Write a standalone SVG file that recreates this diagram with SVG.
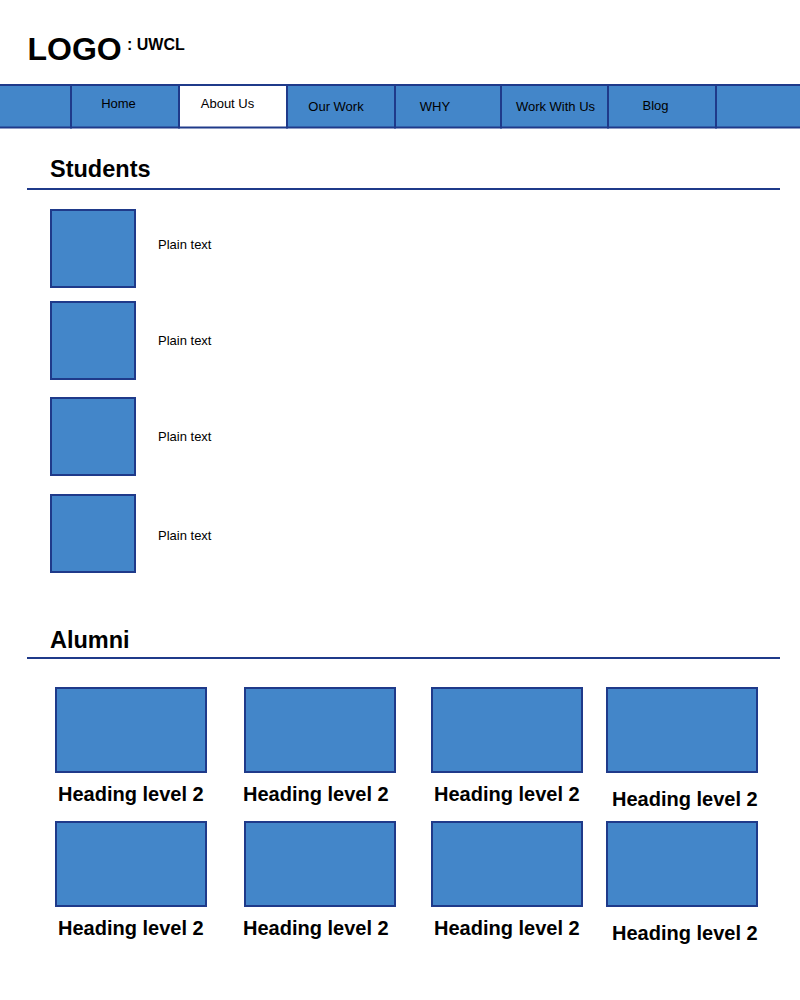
<svg xmlns="http://www.w3.org/2000/svg" width="800" height="1000" viewBox="0 0 800 1000">
<style>
.box{fill:#4386c9;stroke:#1f3a8a;stroke-width:2}
.navw{fill:#ffffff;stroke:#1f3a8a;stroke-width:2}
.rule{stroke:#1f3a8a;stroke-width:2}
text{font-family:"Liberation Sans",Arial,sans-serif;fill:#000}
.nav{font-size:13px;text-anchor:middle}
.plain{font-size:13px}
.h1{font-size:23.5px;font-weight:bold}
.h2{font-size:20px;font-weight:bold}
</style>
<rect width="800" height="1000" fill="#ffffff"/>
<g id="logo">
<text x="27.5" y="60" style="font-size:32px;font-weight:bold">LOGO</text>
<text x="127" y="50" style="font-size:16px;font-weight:bold">: UWCL</text>
</g>
<g id="nav">
<g id="nav-blank-left"><rect class="box" x="-3" y="85" width="74" height="42.5"/></g>
<g id="nav-home"><rect class="box" x="71" y="85" width="108" height="42.5"/><text class="nav" x="118.5" y="108">Home</text></g>
<g id="nav-about"><rect class="navw" x="179" y="85" width="108" height="42.5"/><text class="nav" x="227.5" y="108">About Us</text></g>
<g id="nav-ourwork"><rect class="box" x="287" y="85" width="108" height="42.5"/><text class="nav" x="336" y="111">Our Work</text></g>
<g id="nav-why"><rect class="box" x="395" y="85" width="106" height="42.5"/><text class="nav" x="435" y="111">WHY</text></g>
<g id="nav-workwithus"><rect class="box" x="501" y="85" width="107" height="42.5"/><text class="nav" x="555.5" y="111">Work With Us</text></g>
<g id="nav-blog"><rect class="box" x="608" y="85" width="108" height="42.5"/><text class="nav" x="655.5" y="110">Blog</text></g>
<g id="nav-blank-right"><rect class="box" x="716" y="85" width="86" height="42.5"/></g>
</g>
<g id="students">
<text class="h1" x="50" y="177">Students</text>
<line class="rule" x1="27" y1="189" x2="780" y2="189"/>
<g id="student-1"><rect class="box" x="51" y="210" width="84" height="77"/><text class="plain" x="158" y="249">Plain text</text></g>
<g id="student-2"><rect class="box" x="51" y="302" width="84" height="77"/><text class="plain" x="158" y="345">Plain text</text></g>
<g id="student-3"><rect class="box" x="51" y="398" width="84" height="77"/><text class="plain" x="158" y="441">Plain text</text></g>
<g id="student-4"><rect class="box" x="51" y="495" width="84" height="77"/><text class="plain" x="158" y="540">Plain text</text></g>
</g>
<g id="alumni">
<text class="h1" x="50" y="648">Alumni</text>
<line class="rule" x1="27" y1="658" x2="780" y2="658"/>
<g id="alumni-1"><rect class="box" x="56" y="688" width="150" height="84"/><text class="h2" x="58" y="801">Heading level 2</text></g>
<g id="alumni-2"><rect class="box" x="245" y="688" width="150" height="84"/><text class="h2" x="243" y="801">Heading level 2</text></g>
<g id="alumni-3"><rect class="box" x="432" y="688" width="150" height="84"/><text class="h2" x="434" y="801">Heading level 2</text></g>
<g id="alumni-4"><rect class="box" x="607" y="688" width="150" height="84"/><text class="h2" x="612" y="806">Heading level 2</text></g>
<g id="alumni-5"><rect class="box" x="56" y="822" width="150" height="84"/><text class="h2" x="58" y="935">Heading level 2</text></g>
<g id="alumni-6"><rect class="box" x="245" y="822" width="150" height="84"/><text class="h2" x="243" y="935">Heading level 2</text></g>
<g id="alumni-7"><rect class="box" x="432" y="822" width="150" height="84"/><text class="h2" x="434" y="935">Heading level 2</text></g>
<g id="alumni-8"><rect class="box" x="607" y="822" width="150" height="84"/><text class="h2" x="612" y="940">Heading level 2</text></g>
</g>
</svg>
